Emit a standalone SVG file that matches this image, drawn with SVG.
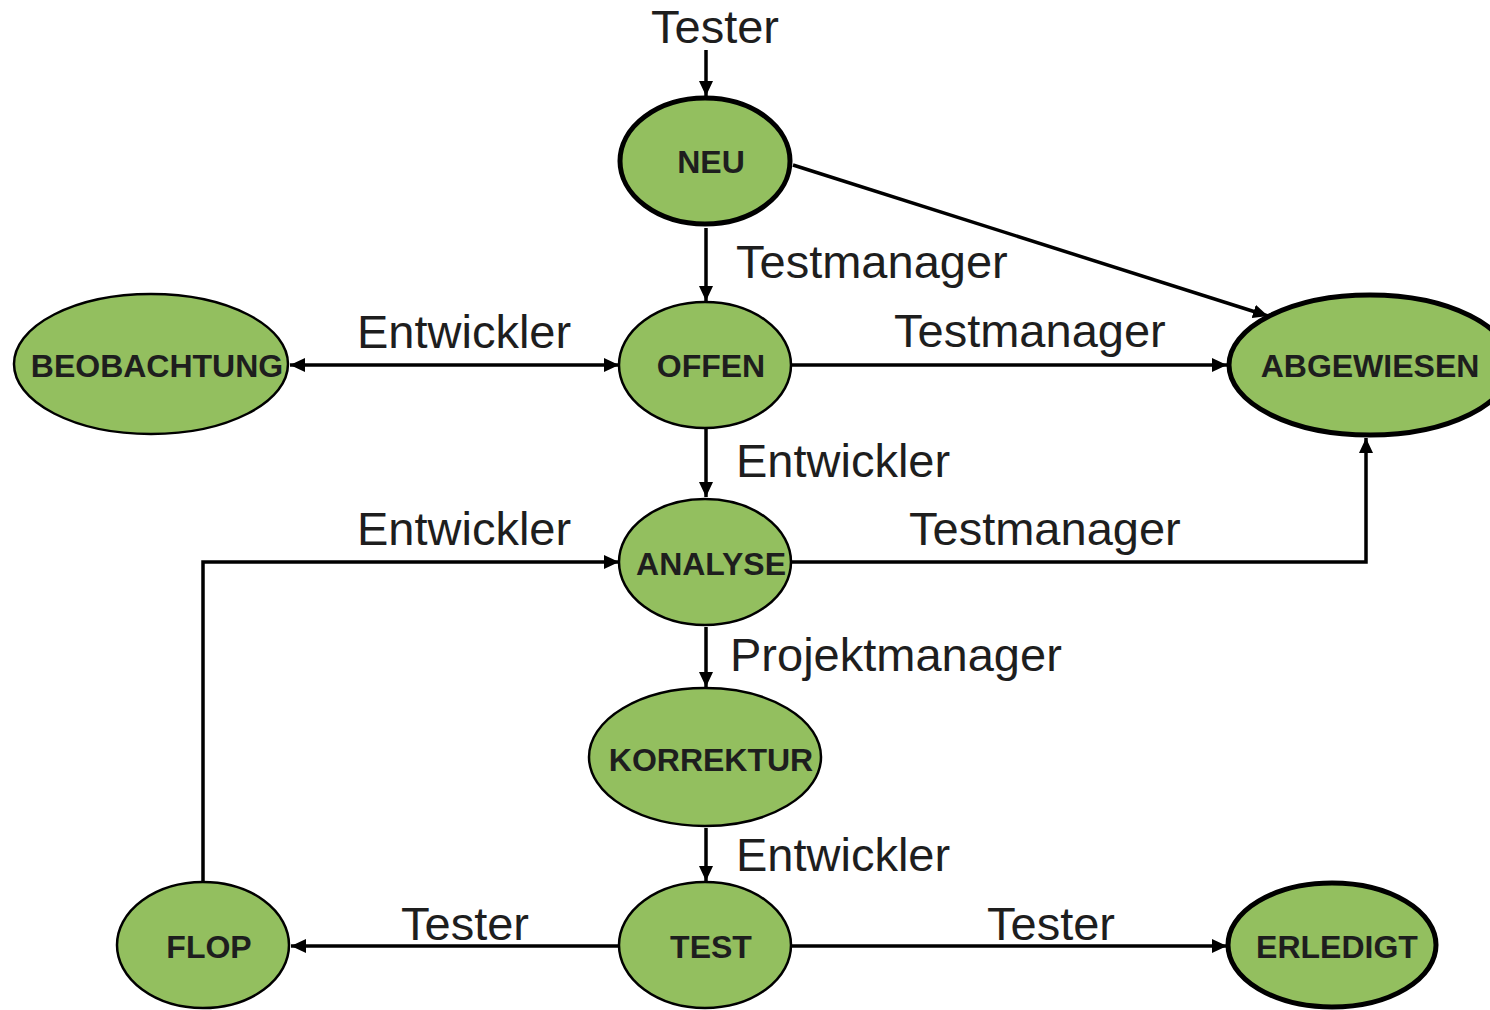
<svg xmlns="http://www.w3.org/2000/svg" width="1490" height="1010" viewBox="0 0 1490 1010">
<style>
.node{fill:#93bf5f;stroke:#000;stroke-width:2.5}
.thick{stroke-width:5}
.nl{font-family:"Liberation Sans",Arial,sans-serif;font-weight:bold;font-size:32px;fill:#1e1e1e;text-anchor:middle}
.el{font-family:"Liberation Sans",Arial,sans-serif;font-size:47px;fill:#1e1e1e}
.c{fill:none;stroke:#000;stroke-width:3.5}
</style>
<defs>
<marker id="ah" markerUnits="userSpaceOnUse" markerWidth="16" markerHeight="14" refX="15" refY="7" orient="auto-start-reverse">
<path d="M0,0 L15,7 L0,14 z" fill="#000"/>
</marker>
</defs>
<rect width="1490" height="1010" fill="#fff"/>
<g id="connectors">
<line class="c" x1="706" y1="50" x2="706" y2="96" marker-end="url(#ah)"/>
<line class="c" x1="706" y1="228" x2="706" y2="301" marker-end="url(#ah)"/>
<line class="c" x1="793" y1="165" x2="1268" y2="316" marker-end="url(#ah)"/>
<line class="c" x1="290" y1="365" x2="619" y2="365" marker-start="url(#ah)" marker-end="url(#ah)"/>
<line class="c" x1="792" y1="365" x2="1227" y2="365" marker-end="url(#ah)"/>
<line class="c" x1="706" y1="429" x2="706" y2="497" marker-end="url(#ah)"/>
<polyline class="c" points="792,562 1366,562 1366,438" marker-end="url(#ah)"/>
<line class="c" x1="706" y1="627" x2="706" y2="687" marker-end="url(#ah)"/>
<line class="c" x1="706" y1="828" x2="706" y2="881" marker-end="url(#ah)"/>
<line class="c" x1="620" y1="946" x2="291" y2="946" marker-end="url(#ah)"/>
<line class="c" x1="792" y1="946" x2="1227" y2="946" marker-end="url(#ah)"/>
<polyline class="c" points="203,882 203,562 619,562" marker-end="url(#ah)"/>
</g>
<g id="labels">
<text class="el" x="651" y="43">Tester</text>
<text class="el" x="736" y="278">Testmanager</text>
<text class="el" x="357" y="348">Entwickler</text>
<text class="el" x="894" y="347">Testmanager</text>
<text class="el" x="736" y="477">Entwickler</text>
<text class="el" x="357" y="545">Entwickler</text>
<text class="el" x="909" y="545">Testmanager</text>
<text class="el" x="730" y="671">Projektmanager</text>
<text class="el" x="736" y="871">Entwickler</text>
<text class="el" x="401" y="940">Tester</text>
<text class="el" x="987" y="940">Tester</text>
</g>
<g id="neu"><ellipse class="node thick" cx="705" cy="161" rx="85" ry="63"/><text class="nl" x="711" y="173">NEU</text></g>
<g id="beobachtung"><ellipse class="node" cx="151" cy="364" rx="137" ry="70"/><text class="nl" x="157" y="377">BEOBACHTUNG</text></g>
<g id="offen"><ellipse class="node" cx="705" cy="365" rx="86" ry="63"/><text class="nl" x="711" y="377">OFFEN</text></g>
<g id="abgewiesen"><ellipse class="node thick" cx="1370" cy="365" rx="141" ry="70"/><text class="nl" x="1370" y="377">ABGEWIESEN</text></g>
<g id="analyse"><ellipse class="node" cx="705" cy="562" rx="86" ry="63"/><text class="nl" x="711" y="575">ANALYSE</text></g>
<g id="korrektur"><ellipse class="node" cx="705" cy="757" rx="116" ry="69"/><text class="nl" x="711" y="771">KORREKTUR</text></g>
<g id="flop"><ellipse class="node" cx="203" cy="945" rx="86" ry="63"/><text class="nl" x="209" y="958">FLOP</text></g>
<g id="test"><ellipse class="node" cx="705" cy="945" rx="86" ry="63"/><text class="nl" x="711" y="958">TEST</text></g>
<g id="erledigt"><ellipse class="node thick" cx="1332" cy="945" rx="104" ry="62"/><text class="nl" x="1337" y="958">ERLEDIGT</text></g>
</svg>
